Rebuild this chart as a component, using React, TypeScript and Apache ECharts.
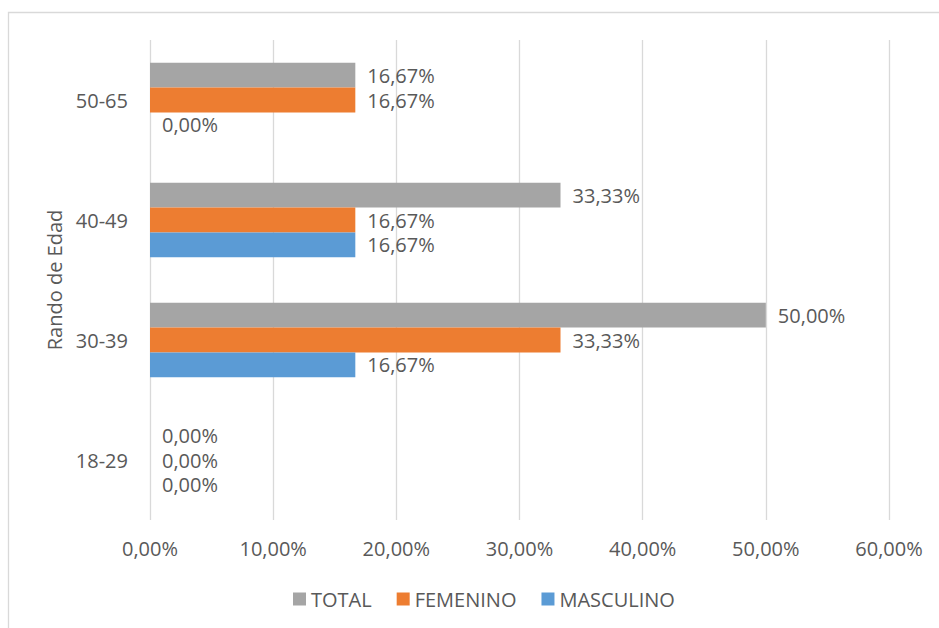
import React, { useEffect, useRef } from "react";
import * as echarts from "echarts";

const categories = ["18-29", "30-39", "40-49", "50-65"];
const masculino = [0, 16.67, 16.67, 0];
const femenino = [0, 33.33, 16.67, 16.67];
const total = [0, 50, 33.33, 16.67];
const legendOrder = ["TOTAL", "FEMENINO", "MASCULINO"];
const xTicks = { min: 0, max: 60, interval: 10 };

const FONT = "Open Sans";
const TXT = "#595959";
const FS = 20;

const fmt = (v: number) => v.toFixed(2).replace(".", ",") + "%";

export default function App() {
  const ref = useRef<HTMLDivElement>(null);
  useEffect(() => {
    if (!ref.current) return;
    const chart = echarts.init(ref.current, undefined, { renderer: "svg" });
    const label = {
      show: true,
      position: "right",
      distance: 12,
      color: TXT,
      fontFamily: FONT,
      fontSize: FS,
      formatter: (p: any) => fmt(p.value),
    };
    const mk = (name: string, data: number[], color: string) => ({
      name,
      type: "bar",
      data,
      itemStyle: { color },
      label,
      barGap: "0%",
      barCategoryGap: "38%",
    });
    chart.setOption({
      animation: false,
      textStyle: { fontFamily: FONT },
      graphic: [
        {
          type: "rect",
          shape: { x: 8.5, y: 12.5, width: 1200, height: 1200 },
          style: { fill: "none", stroke: "#d9d9d9", lineWidth: 1.3 },
          silent: true,
        },
      ],
      grid: { left: 150, right: 50, top: 40, bottom: 108, containLabel: false },
      legend: {
        data: legendOrder,
        bottom: 14,
        left: 288,
        itemWidth: 13,
        itemHeight: 13,
        itemGap: 25,
        icon: "rect",
        textStyle: { color: TXT, fontFamily: FONT, fontSize: FS },
      },
      xAxis: {
        type: "value",
        min: xTicks.min,
        max: xTicks.max,
        interval: xTicks.interval,
        axisLine: { show: false },
        axisTick: { show: false },
        splitLine: { show: true, lineStyle: { color: "#d9d9d9", width: 1.3 } },
        axisLabel: {
          color: TXT,
          fontFamily: FONT,
          fontSize: FS,
          margin: 18,
          formatter: (v: number) => fmt(v),
        },
      },
      yAxis: {
        type: "category",
        data: categories,
        axisLine: { show: false },
        axisTick: { show: false },
        axisLabel: { color: TXT, fontFamily: FONT, fontSize: FS, margin: 22 },
        name: "Rando de Edad",
        nameLocation: "middle",
        nameRotate: 90,
        nameGap: 82,
        nameTextStyle: { color: TXT, fontFamily: FONT, fontSize: FS },
      },
      series: [
        mk("TOTAL", total, "#A5A5A5"),
        mk("FEMENINO", femenino, "#ED7D31"),
        mk("MASCULINO", masculino, "#5B9BD5"),
      ],
    });
    return () => chart.dispose();
  }, []);
  return (
    <div
      ref={ref}
      style={{ position: "fixed", left: 0, top: 0, width: 939, height: 628, background: "#fff" }}
    />
  );
}
